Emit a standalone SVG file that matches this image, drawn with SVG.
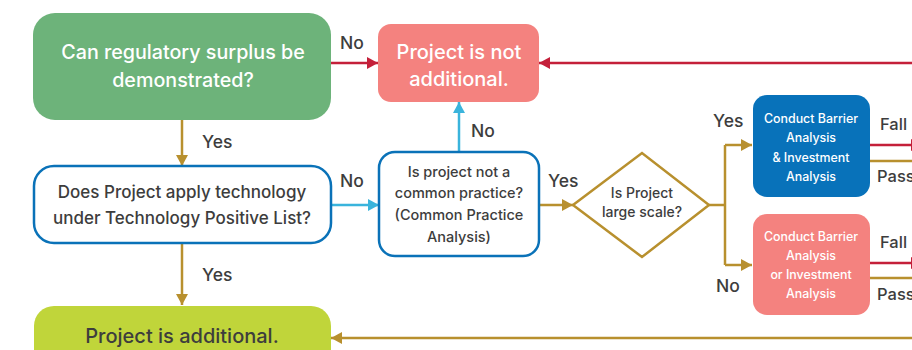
<svg xmlns="http://www.w3.org/2000/svg" width="912" height="350" viewBox="0 0 912 350">
<defs>
<style>
.t{font-family:Inter,"Liberation Sans",Arial,sans-serif;text-anchor:middle;font-weight:500}
.w{fill:#ffffff}
.d{fill:#3d3d3d}
.lbl{font-family:Inter,"Liberation Sans",Arial,sans-serif;font-size:17.5px;fill:#3d3d3d;font-weight:500}
.pf{font-size:16.5px}
.red{stroke:#c4203a;stroke-width:2.5;fill:none}
.gold{stroke:#b8902e;stroke-width:2.5;fill:none}
.cyan{stroke:#3ab4dc;stroke-width:2.5;fill:none}
</style>
<marker id="aR" markerUnits="userSpaceOnUse" markerWidth="12" markerHeight="14" refX="11" refY="7" orient="auto"><path d="M0,1 L11,7 L0,13 Z" fill="#c4203a"/></marker>
<marker id="aG" markerUnits="userSpaceOnUse" markerWidth="12" markerHeight="14" refX="11" refY="7" orient="auto"><path d="M0,1 L11,7 L0,13 Z" fill="#b8902e"/></marker>
<marker id="aC" markerUnits="userSpaceOnUse" markerWidth="12" markerHeight="14" refX="11" refY="7" orient="auto"><path d="M0,1 L11,7 L0,13 Z" fill="#3ab4dc"/></marker>
</defs>
<rect width="912" height="350" fill="#ffffff"/>

<g id="connectors">
<line x1="331" y1="63" x2="378" y2="63" class="red" marker-end="url(#aR)"/>
<line x1="912" y1="63" x2="539" y2="63" class="red" marker-end="url(#aR)"/>
<line x1="459" y1="152" x2="459" y2="102" class="cyan" marker-end="url(#aC)"/>
<line x1="182" y1="120" x2="182" y2="166" class="gold" marker-end="url(#aG)"/>
<line x1="331" y1="205" x2="379" y2="205" class="cyan" marker-end="url(#aC)"/>
<line x1="539" y1="205" x2="573" y2="205" class="gold" marker-end="url(#aG)"/>
<polyline points="709,205 725,205" class="gold"/>
<polyline points="725,145 725,265" class="gold"/>
<line x1="725" y1="145" x2="752" y2="145" class="gold" marker-end="url(#aG)"/>
<line x1="725" y1="265" x2="752" y2="265" class="gold" marker-end="url(#aG)"/>
<line x1="870" y1="145" x2="922" y2="145" class="red" marker-end="url(#aR)"/>
<line x1="870" y1="161" x2="912" y2="161" class="gold"/>
<line x1="870" y1="263" x2="922" y2="263" class="red" marker-end="url(#aR)"/>
<line x1="870" y1="278" x2="912" y2="278" class="gold"/>
<line x1="182" y1="243" x2="182" y2="305" class="gold" marker-end="url(#aG)"/>
<line x1="912" y1="338" x2="331" y2="338" class="gold" marker-end="url(#aG)"/>
<text x="340" y="49" class="lbl">No</text>
<text x="471" y="137" class="lbl">No</text>
<text x="202" y="148" class="lbl">Yes</text>
<text x="340" y="187" class="lbl">No</text>
<text x="548" y="187" class="lbl">Yes</text>
<text x="713" y="127" class="lbl">Yes</text>
<text x="716" y="292" class="lbl">No</text>
<text x="202" y="281" class="lbl">Yes</text>
<text x="880" y="130" class="lbl pf">Fall</text>
<text x="877" y="182" class="lbl pf">Pass</text>
<text x="880" y="248" class="lbl pf">Fall</text>
<text x="877" y="300" class="lbl pf">Pass</text>
</g>

<g id="surplus">
<rect x="33" y="13" width="298" height="107" rx="22" fill="#6db37a"/>
<text x="183" y="59" class="t w" font-size="19.7">Can regulatory surplus be</text>
<text x="183" y="87" class="t w" font-size="19.7">demonstrated?</text>
</g>

<g id="not-additional">
<rect x="378" y="24" width="161" height="78" rx="13" fill="#f4827f"/>
<text x="459" y="59" class="t w" font-size="20">Project is not</text>
<text x="459" y="86" class="t w" font-size="20">additional.</text>
</g>

<g id="positive-list">
<rect x="34" y="166" width="297" height="77" rx="20" fill="#ffffff" stroke="#0a72b8" stroke-width="2.5"/>
<text x="182" y="198" class="t d" font-size="17">Does Project apply technology</text>
<text x="182" y="224" class="t d" font-size="17">under Technology Positive List?</text>
</g>

<g id="common-practice">
<rect x="379" y="152" width="160" height="104" rx="16" fill="#ffffff" stroke="#0a72b8" stroke-width="2.5"/>
<text x="459" y="177" class="t d" font-size="14.5">Is project not a</text>
<text x="459" y="198" class="t d" font-size="14.5">common practice?</text>
<text x="459" y="220" class="t d" font-size="14.5">(Common Practice</text>
<text x="459" y="242" class="t d" font-size="14.5">Analysis)</text>
</g>

<g id="large-scale">
<polygon points="573,205 642,153 709,205 642,257" fill="#ffffff" stroke="#b8902e" stroke-width="2.5"/>
<text x="642" y="198" class="t d" font-size="14">Is Project</text>
<text x="642" y="217" class="t d" font-size="14">large scale?</text>
</g>

<g id="barrier-and">
<rect x="753" y="95" width="117" height="102" rx="14" fill="#0872ba"/>
<text x="811" y="123" class="t w" font-size="12.4">Conduct Barrier</text>
<text x="811" y="142" class="t w" font-size="12.4">Analysis</text>
<text x="811" y="162" class="t w" font-size="12.4">&amp; Investment</text>
<text x="811" y="181" class="t w" font-size="12.4">Analysis</text>
</g>

<g id="barrier-or">
<rect x="753" y="214" width="117" height="101" rx="14" fill="#f4827f"/>
<text x="811" y="241" class="t w" font-size="12.4">Conduct Barrier</text>
<text x="811" y="260" class="t w" font-size="12.4">Analysis</text>
<text x="811" y="279" class="t w" font-size="12.4">or Investment</text>
<text x="811" y="298" class="t w" font-size="12.4">Analysis</text>
</g>

<g id="additional">
<rect x="34" y="306" width="297" height="80" rx="20" fill="#c0d53a"/>
<text x="182" y="343" class="t d" font-size="20">Project is additional.</text>
</g>
</svg>
